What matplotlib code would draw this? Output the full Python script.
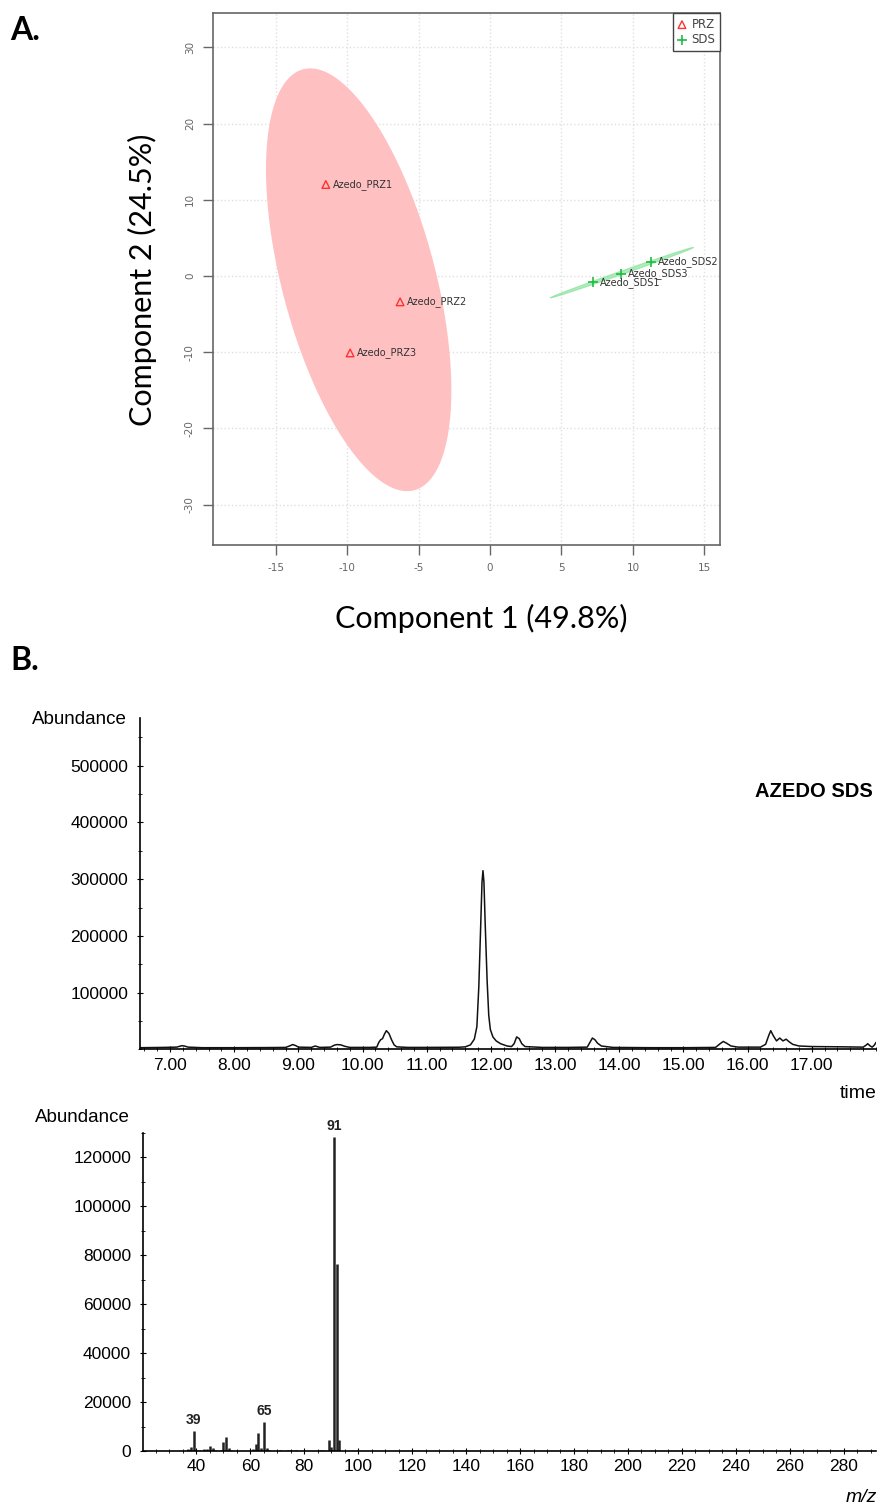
import numpy as np
import matplotlib
matplotlib.use("Agg")
import matplotlib.pyplot as plt
from matplotlib.ticker import MultipleLocator, FormatStrFormatter, FixedLocator

plt.rcParams['axes.unicode_minus'] = False

# PCA scores (panel A)
prz_x = [-11.5, -6.3, -9.8]
prz_y = [12.0, -3.4, -10.1]
prz_names = ["Azedo_PRZ1", "Azedo_PRZ2", "Azedo_PRZ3"]
sds_x = [7.2, 11.3, 9.2]
sds_y = [-0.85, 1.85, 0.3]
sds_names = ["Azedo_SDS1", "Azedo_SDS2", "Azedo_SDS3"]

# chromatogram (time, abundance)
chrom_t = [6.53, 6.9, 7.1, 7.15, 7.18, 7.22, 7.28, 7.5, 8.0, 8.5, 8.8, 8.87, 8.91, 8.95, 9.0,
           9.2, 9.26, 9.33, 9.5, 9.56, 9.6, 9.66, 9.72, 9.8, 10.1, 10.22, 10.25, 10.28,
           10.31, 10.34, 10.37, 10.41, 10.45, 10.49, 10.53, 10.7,
           11.0, 11.5, 11.6, 11.68, 11.74, 11.78, 11.81, 11.84, 11.86, 11.875, 11.89,
           11.91, 11.94, 11.965, 11.99, 12.03, 12.08, 12.15, 12.25, 12.32, 12.36, 12.4,
           12.44, 12.48, 12.53, 12.8, 13.2, 13.5, 13.54, 13.58, 13.62, 13.66, 13.72, 13.9,
           14.5, 15.0, 15.5, 15.57, 15.62, 15.67, 15.74, 15.85, 16.2, 16.28, 16.33, 16.36,
           16.4, 16.45, 16.5, 16.55, 16.6, 16.64, 16.7, 16.8, 17.0, 17.5, 17.8, 17.84,
           17.87, 17.91, 17.94, 17.97, 18.0]
chrom_a = [3000, 3500, 4000, 5500, 6500, 6000, 4000, 3000, 3000, 3200, 3500, 6500, 8500, 7000,
           4000, 3500, 6000, 3500, 4000, 7500, 8500, 8000, 5500, 3500, 3500, 4000, 12000,
           17000, 19000, 27000, 33000, 28000, 17000, 8000, 4500, 3500,
           3500, 3800, 4500, 8000, 18000, 40000, 110000, 220000, 295000, 315000, 295000,
           220000, 120000, 60000, 35000, 22000, 15000, 10000, 6000, 5000, 10000, 22000,
           19000, 10000, 5000, 3500, 3500, 4000, 12000, 20000, 17000, 11000, 6000, 3500,
           3000, 3000, 3500, 10000, 14000, 11000, 6000, 4000, 4000, 9000, 25000, 33000,
           24000, 15000, 20000, 15000, 18000, 14000, 9000, 6000, 5000, 4500, 4000, 7000,
           10000, 6000, 4000, 7000, 12000]

# mass spectrum
mz = [37, 38, 39, 40, 41, 43, 44, 45, 46, 47, 49, 50, 51, 52, 53, 55, 61, 62, 63, 64, 65,
      66, 67, 69, 71, 74, 75, 77, 78, 85, 86, 87, 89, 90, 91, 92, 93]
ms_ab = [700, 1800, 8000, 600, 300, 900, 700, 2200, 1200, 400, 500, 3800, 5800, 1200, 500,
         200, 1000, 2800, 7500, 1200, 11800, 1100, 300, 200, 300, 500, 300, 500, 200, 200,
         400, 400, 4600, 1500, 128500, 76500, 4500]
ms_labels = [39, 65, 91]

fig = plt.figure(figsize=(8.78, 15.04), dpi=100)
W, H = 878.0, 1504.0


def box(l, t, r, b):
    return [l / W, 1 - b / H, (r - l) / W, (b - t) / H]


def conf_ellipse(x, y, k=2.4477, n=200):
    x = np.asarray(x); y = np.asarray(y)
    cov = np.cov(x, y)
    vals, vecs = np.linalg.eigh(cov)
    t = np.linspace(0, 2 * np.pi, n)
    circ = np.vstack([np.cos(t), np.sin(t)]) * np.sqrt(vals)[:, None] * k
    pts = vecs @ circ
    return x.mean() + pts[0], y.mean() + pts[1]


# ---------------- A. PCA ----------------
ax = fig.add_axes(box(213, 13, 720, 545))
ax.set_xlim(-19.4, 16.1)
ax.set_ylim(-35.3, 34.5)
ax.set_xticks([-15, -10, -5, 0, 5, 10, 15])
ax.set_yticks([-30, -20, -10, 0, 10, 20, 30])
ax.grid(True, color="#e0e0e0", linestyle=":", linewidth=1.0, zorder=0)
ax.set_axisbelow(True)
for s in ax.spines.values():
    s.set_color("#666666")
    s.set_linewidth(1.2)
ax.tick_params(colors="#666666", labelsize=7.5, length=7, width=1.0, pad=6)
ax.tick_params(axis="y", labelrotation=90)
for lab in ax.get_yticklabels():
    lab.set_va("center")

ex, ey = conf_ellipse(prz_x, prz_y)
ax.fill(ex, ey, color="#ffc0c2", lw=0, zorder=1)
ex, ey = conf_ellipse(sds_x, sds_y)
ax.fill(ex, ey, color="#7be08f", alpha=0.6, lw=0.8, edgecolor="#7be08f", zorder=1)

ax.scatter(prz_x, prz_y, marker="^", s=30, facecolors="none", edgecolors="#ff3030",
           linewidths=1.0, zorder=3, label="PRZ")
ax.scatter(sds_x, sds_y, marker="+", s=45, color="#22bb44", linewidths=1.2, zorder=3,
           label="SDS")
for x, y, n in zip(prz_x + sds_x, prz_y + sds_y, prz_names + sds_names):
    ax.annotate(n, (x, y), xytext=(5, 0), textcoords="offset points", va="center",
                ha="left", fontsize=7, color="#333333", zorder=4)

leg = ax.legend(loc="upper right", borderaxespad=0, fancybox=False, edgecolor="#444444",
                fontsize=8.5, handlelength=0.8, handletextpad=0.4, borderpad=0.4,
                labelspacing=0.2, framealpha=1)
for t in leg.get_texts():
    t.set_color("#444444")

fig.text(481 / W, 1 - 618 / H, "Component 1 (49.8%)", fontsize=22, family="Lato",
         ha="center", va="center")
fig.text(142 / W, 1 - 280 / H, "Component 2 (24.5%)", fontsize=22, family="Lato",
         ha="center", va="center", rotation=90)
fig.text(10 / W, 1 - 30 / H, "A.", fontsize=23, family="Lato", weight="bold",
         ha="left", va="center")
fig.text(10 / W, 1 - 660 / H, "B.", fontsize=23, family="Lato", weight="bold",
         ha="left", va="center")

# ---------------- B. chromatogram ----------------
sans = "Liberation Sans"
ax2 = fig.add_axes(box(140, 718, 876, 1049.4))
ax2.plot(chrom_t, chrom_a, color="#111111", lw=1.1)
ax2.set_xlim(6.53, 18.0)
ax2.set_ylim(0, 584000)
ax2.spines[["top", "right"]].set_visible(False)
for s in ["left", "bottom"]:
    ax2.spines[s].set_linewidth(1.2)
ax2.xaxis.set_major_locator(FixedLocator(np.arange(7, 18)))
ax2.xaxis.set_minor_locator(MultipleLocator(0.2))
ax2.xaxis.set_major_formatter(FormatStrFormatter("%.2f"))
ax2.set_yticks([100000, 200000, 300000, 400000, 500000])
ax2.yaxis.set_minor_locator(MultipleLocator(50000))
ax2.tick_params(which="major", direction="inout", length=5, width=0.8, labelsize=12.5)
ax2.tick_params(which="minor", direction="inout", length=3, width=0.6)
for lab in ax2.get_xticklabels() + ax2.get_yticklabels():
    lab.set_family(sans)
ax2.tick_params(axis="y", pad=6)
fig.text(127 / W, 1 - 719 / H, "Abundance", fontsize=13.5, family=sans, ha="right",
         va="center")
fig.text(873 / W, 1 - 792 / H, "AZEDO SDS", fontsize=14.5, family=sans, weight="bold",
         ha="right", va="center")
fig.text(877 / W, 1 - 1093 / H, "time", fontsize=14, family=sans, ha="right",
         va="center")

# ---------------- mass spectrum ----------------
ax3 = fig.add_axes(box(143, 1133, 876, 1451))
ax3.vlines(mz, 0, ms_ab, color="#222222", lw=1.8)
ax3.set_xlim(20.2, 292)
ax3.set_ylim(0, 130000)
ax3.spines[["top", "right"]].set_visible(False)
for s in ["left", "bottom"]:
    ax3.spines[s].set_linewidth(1.2)
ax3.xaxis.set_major_locator(FixedLocator(np.arange(40, 281, 20)))
ax3.xaxis.set_minor_locator(MultipleLocator(5))
ax3.yaxis.set_major_locator(MultipleLocator(20000))
ax3.yaxis.set_minor_locator(MultipleLocator(10000))
ax3.tick_params(which="major", direction="inout", length=5, width=0.8, labelsize=12.5)
ax3.tick_params(which="minor", direction="inout", length=3, width=0.6)
ax3.tick_params(axis="y", pad=6)
for lab in ax3.get_xticklabels() + ax3.get_yticklabels():
    lab.set_family(sans)
for m in ms_labels:
    a = ms_ab[mz.index(m)]
    ax3.annotate(str(m), (m, a), xytext=(0, 3), textcoords="offset points", ha="center",
                 va="bottom", fontsize=10, weight="bold", family=sans, color="#222222")
fig.text(130 / W, 1 - 1118 / H, "Abundance", fontsize=13.5, family=sans, ha="right",
         va="center")
fig.text(877 / W, 1 - 1497 / H, "m/z", fontsize=14, family=sans, style="italic",
         ha="right", va="center")

fig.savefig("out.png", dpi=100)
